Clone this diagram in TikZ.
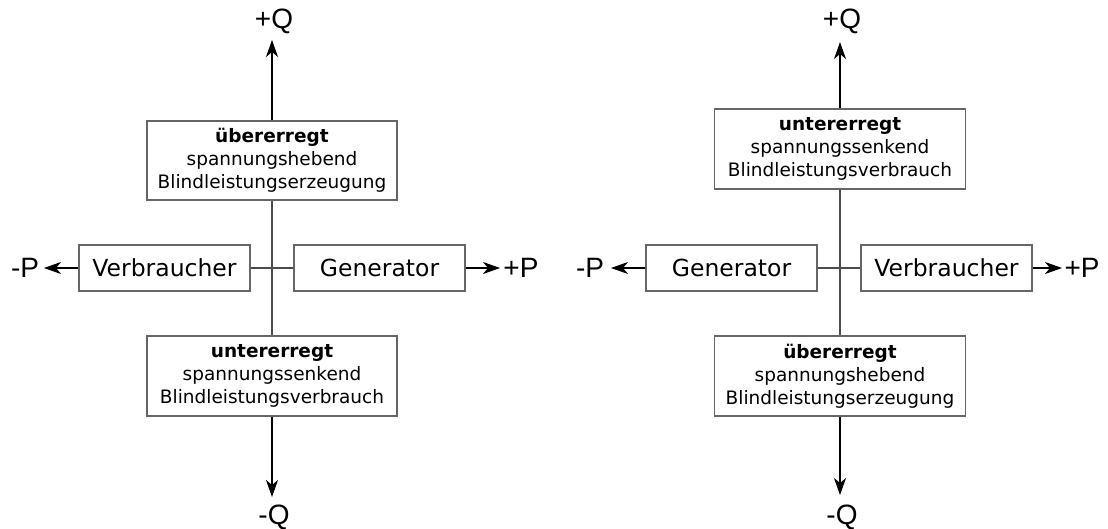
\documentclass[tikz,border=0pt]{standalone}
\usepackage{fontspec}
\setmainfont{DejaVu Sans}
\newfontfamily\axfont{Liberation Sans}
\usetikzlibrary{arrows.meta}
\tikzset{
  box/.style={shape=rectangle, draw=black!60, line width=1.1pt, align=center, inner sep=0pt, font=\fontsize{18.5}{23}\selectfont},
  sbox/.style={shape=rectangle, draw=black!60, line width=1.1pt, minimum width=171pt, minimum height=46pt, inner sep=0pt, font=\fontsize{23.5}{28}\selectfont},
  ax/.style={inner sep=0pt, font=\axfont\fontsize{28}{32}\selectfont},
  arr/.style={-{Stealth[length=17pt,width=12pt,inset=5pt]}, line width=1.1pt},
}
\begin{document}
\begin{tikzpicture}[x=1pt,y=-1pt]
\useasboundingbox (0,0) rectangle (1108,528);
% linkes Diagramm
\node [box, minimum width=250pt, minimum height=79pt] (t1) at (272,160.5) {\textbf{übererregt}\\spannungshebend\\Blindleistungserzeugung};
\node [box, minimum width=250pt, minimum height=80pt] (u1) at (272,376) {\textbf{untererregt}\\spannungssenkend\\Blindleistungsverbrauch};
\node [sbox] (v1) at (164.5,268) {Verbraucher};
\node [sbox] (g1) at (379.5,268) {Generator};
\node [ax] (qp1) at (274,21) {+Q};
\node [ax] (qm1) at (274,517) {-Q};
\node [ax] (pm1) at (25,268) {-P};
\node [ax] (pp1) at (521,268) {+P};
\coordinate (a1) at (272,40);
\coordinate (b1) at (272,497);
\coordinate (c1) at (44,268);
\coordinate (d1) at (500,268);
\draw [black!70, line width=1.1pt] (t1) -- (u1);
\draw [black!70, line width=1.1pt] (v1) -- (g1);
\draw [arr] (t1) -- (a1);
\draw [arr] (u1) -- (b1);
\draw [arr] (v1) -- (c1);
\draw [arr] (g1) -- (d1);
% rechtes Diagramm
\node [box, minimum width=251pt, minimum height=80pt] (t2) at (840,149) {\textbf{untererregt}\\spannungssenkend\\Blindleistungsverbrauch};
\node [box, minimum width=251pt, minimum height=80pt] (u2) at (840,376) {\textbf{übererregt}\\spannungshebend\\Blindleistungserzeugung};
\node [sbox] (g2) at (731.5,268) {Generator};
\node [sbox] (v2) at (946.5,268) {Verbraucher};
\node [ax] (qp2) at (842,21) {+Q};
\node [ax] (qm2) at (842,517) {-Q};
\node [ax] (pm2) at (590,268) {-P};
\node [ax] (pp2) at (1082,268) {+P};
\coordinate (a2) at (840,42);
\coordinate (b2) at (840,495);
\coordinate (c2) at (611,268);
\coordinate (d2) at (1062,268);
\draw [black!70, line width=1.1pt] (t2) -- (u2);
\draw [black!70, line width=1.1pt] (g2) -- (v2);
\draw [arr] (t2) -- (a2);
\draw [arr] (u2) -- (b2);
\draw [arr] (g2) -- (c2);
\draw [arr] (v2) -- (d2);
\end{tikzpicture}
\end{document}
